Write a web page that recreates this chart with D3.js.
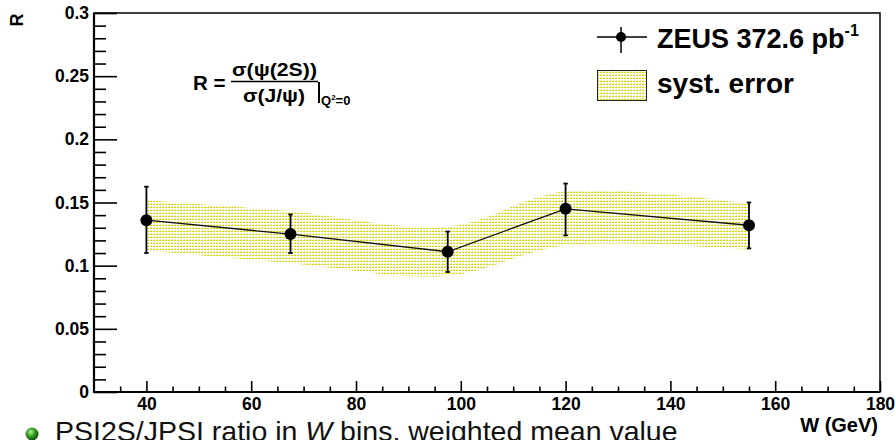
<!DOCTYPE html>
<html>
<head>
<meta charset="utf-8">
<script src="https://cdn.jsdelivr.net/npm/d3@7"></script>
<style>
  html, body { margin: 0; padding: 0; background: #fff; }
  svg { display: block; }
  text { font-family: "Liberation Sans", Arial, Helvetica, sans-serif; }
</style>
</head>
<body>
<svg id="chart" width="895" height="440"></svg>
<script>
// ---- data ----
const W        = [40, 67.5, 97.5, 120, 155];
const R        = [0.136, 0.125, 0.111, 0.145, 0.132];
const statUp   = [0.1625, 0.1405, 0.127, 0.165, 0.150];
const statLo   = [0.110, 0.110, 0.095, 0.124, 0.1137];
const systUp   = [0.152, 0.143, 0.131, 0.159, 0.149];
const systLo   = [0.112, 0.102, 0.092, 0.116, 0.1125];
const xMajorTicks = [40, 60, 80, 100, 120, 140, 160, 180];
const yMajorTicks = [0, 0.05, 0.1, 0.15, 0.2, 0.25, 0.3];
const yTickLabels = ["0", "0.05", "0.1", "0.15", "0.2", "0.25", "0.3"];
const xMinorTicks = d3.range(35, 180, 5).filter(v => v % 20 !== 0);
const yMinorTicks = d3.range(1, 30).map(v => v / 100).filter(v => Math.round(v * 100) % 5 !== 0);

const svg = d3.select("#chart");
const x = d3.scaleLinear().domain([30, 180]).range([94, 880]);
const y = d3.scaleLinear().domain([0, 0.3]).range([392, 13]);

// pattern
const defs = svg.append("defs");
const pat = defs.append("pattern").attr("id", "syst").attr("patternUnits", "userSpaceOnUse")
  .attr("x", 0).attr("y", 0).attr("width", 3).attr("height", 3);
pat.append("rect").attr("width", 3).attr("height", 3).attr("fill", "#ffffff");
pat.append("rect").attr("width", 2).attr("height", 1).attr("fill", "#d8d800");
pat.append("rect").attr("x", 1).attr("y", 2).attr("width", 1).attr("height", 1).attr("fill", "#ecec80");

const grad = defs.append("radialGradient").attr("id", "ball").attr("cx", "40%").attr("cy", "35%").attr("r", "65%");
grad.append("stop").attr("offset", "0%").attr("stop-color", "#b6f0a0");
grad.append("stop").attr("offset", "45%").attr("stop-color", "#3aa82a");
grad.append("stop").attr("offset", "100%").attr("stop-color", "#0c4a08");

// syst band
const idx = d3.range(W.length);
const band = d3.area()
  .x(i => x(W[i])).y0(i => y(systLo[i])).y1(i => y(systUp[i]))
  .curve(d3.curveCatmullRom.alpha(0.5));
svg.append("path").attr("d", band(idx)).attr("fill", "url(#syst)");

// axes
const gy = svg.append("g").attr("transform", `translate(${x(30)},0)`);
gy.call(d3.axisLeft(y).tickValues(yMajorTicks).tickSize(-23).tickPadding(5)
  .tickFormat((d, i) => yTickLabels[i]));
const gyMinor = svg.append("g").attr("transform", `translate(${x(30)},0)`);
gyMinor.call(d3.axisLeft(y).tickValues(yMinorTicks).tickSize(-12).tickFormat(""));

const gx = svg.append("g").attr("transform", `translate(0,${y(0)})`);
gx.call(d3.axisBottom(x).tickValues(xMajorTicks).tickSize(-11).tickPadding(6).tickFormat(d3.format("d")));
const gxMinor = svg.append("g").attr("transform", `translate(0,${y(0)})`);
gxMinor.call(d3.axisBottom(x).tickValues(xMinorTicks).tickSize(-5.5).tickFormat(""));

[gy, gyMinor, gx, gxMinor].forEach(g => {
  g.select(".domain").remove();
  g.selectAll(".tick line").attr("stroke", "#000").attr("stroke-width", 1.6);
  g.selectAll("text").attr("fill", "#000").attr("font-size", 17.5).attr("font-weight", "bold")
    .style("font-family", '"Liberation Sans", Arial, sans-serif');
});

// frame
svg.append("rect").attr("x", x(30)).attr("y", y(0.3)).attr("width", x(180) - x(30)).attr("height", y(0) - y(0.3))
  .attr("fill", "none").attr("stroke", "#000").attr("stroke-width", 1.5);
svg.append("line").attr("x1", x(30)).attr("x2", x(30)).attr("y1", y(0.3)).attr("y2", y(0) + 1)
  .attr("stroke", "#000").attr("stroke-width", 2.2);
svg.append("line").attr("x1", x(30) - 1).attr("x2", x(180)).attr("y1", y(0)).attr("y2", y(0))
  .attr("stroke", "#000").attr("stroke-width", 2.2);

// data line
const line = d3.line().x(i => x(W[i])).y(i => y(R[i]));
svg.append("path").attr("d", line(idx)).attr("fill", "none").attr("stroke", "#111").attr("stroke-width", 1.3);

// error bars
const eb = svg.append("g").attr("stroke", "#000");
idx.forEach(i => {
  eb.append("line").attr("x1", x(W[i])).attr("x2", x(W[i])).attr("y1", y(statUp[i])).attr("y2", y(statLo[i])).attr("stroke-width", 1.8);
  [statUp[i], statLo[i]].forEach(v => {
    eb.append("line").attr("x1", x(W[i]) - 2.2).attr("x2", x(W[i]) + 2.2).attr("y1", y(v)).attr("y2", y(v)).attr("stroke-width", 1.8);
  });
});
svg.append("g").selectAll("circle").data(idx).join("circle")
  .attr("cx", i => x(W[i])).attr("cy", i => y(R[i])).attr("r", 6).attr("fill", "#000");

// axis titles
svg.append("text").attr("transform", "translate(23,20) rotate(-90)").attr("text-anchor", "middle")
  .attr("font-size", 18).attr("font-weight", "bold").text("R");
svg.append("text").attr("x", 878).attr("y", 432).attr("text-anchor", "end")
  .attr("font-size", 20).attr("font-weight", "bold").text("W (GeV)");

// formula
const f = svg.append("g").attr("font-weight", "bold").attr("fill", "#000");
f.append("text").attr("x", 193).attr("y", 90).attr("font-size", 20.5).text("R =");
f.append("text").attr("x", 232).attr("y", 76).attr("font-size", 18)
  .attr("textLength", 85).attr("lengthAdjust", "spacingAndGlyphs").text("σ(ψ(2S))");
f.append("line").attr("x1", 231).attr("x2", 318).attr("y1", 81.5).attr("y2", 81.5).attr("stroke", "#000").attr("stroke-width", 1.6);
f.append("text").attr("x", 243).attr("y", 102).attr("font-size", 18)
  .attr("textLength", 62).attr("lengthAdjust", "spacingAndGlyphs").text("σ(J/ψ)");
f.append("line").attr("x1", 319).attr("x2", 319).attr("y1", 82).attr("y2", 103).attr("stroke", "#000").attr("stroke-width", 2);
const sub = f.append("text").attr("x", 321).attr("y", 105).attr("font-size", 13);
sub.append("tspan").text("Q");
sub.append("tspan").attr("font-size", 8).attr("dy", -5).text("2");
sub.append("tspan").attr("dy", 5).text("=0");

// legend
const lg = svg.append("g");
lg.append("line").attr("x1", 597).attr("x2", 647).attr("y1", 37).attr("y2", 37).attr("stroke", "#000").attr("stroke-width", 1.3);
lg.append("line").attr("x1", 621).attr("x2", 621).attr("y1", 27).attr("y2", 53).attr("stroke", "#000").attr("stroke-width", 1.5);
lg.append("circle").attr("cx", 621).attr("cy", 37).attr("r", 5).attr("fill", "#000");
const t1 = lg.append("text").attr("x", 657).attr("y", 48).attr("font-size", 27).attr("font-weight", "bold");
t1.append("tspan").text("ZEUS 372.6 pb");
t1.append("tspan").attr("font-size", 16).attr("dy", -12).text("-1");
lg.append("rect").attr("x", 597.5).attr("y", 70.5).attr("width", 49).attr("height", 30)
  .attr("fill", "url(#syst)").attr("stroke", "#222").attr("stroke-width", 1);
lg.append("text").attr("x", 657).attr("y", 93).attr("font-size", 28).attr("font-weight", "bold").text("syst. error");

// bottom caption
svg.append("circle").attr("cx", 32).attr("cy", 434).attr("r", 6.5).attr("fill", "url(#ball)");
const cap = svg.append("text").attr("x", 55).attr("y", 441).attr("font-size", 28.5).attr("fill", "#111");
cap.append("tspan").text("PSI2S/JPSI ratio in ");
cap.append("tspan").attr("font-style", "italic").text("W");
cap.append("tspan").text(" bins, weighted mean value");
</script>
</body>
</html>
